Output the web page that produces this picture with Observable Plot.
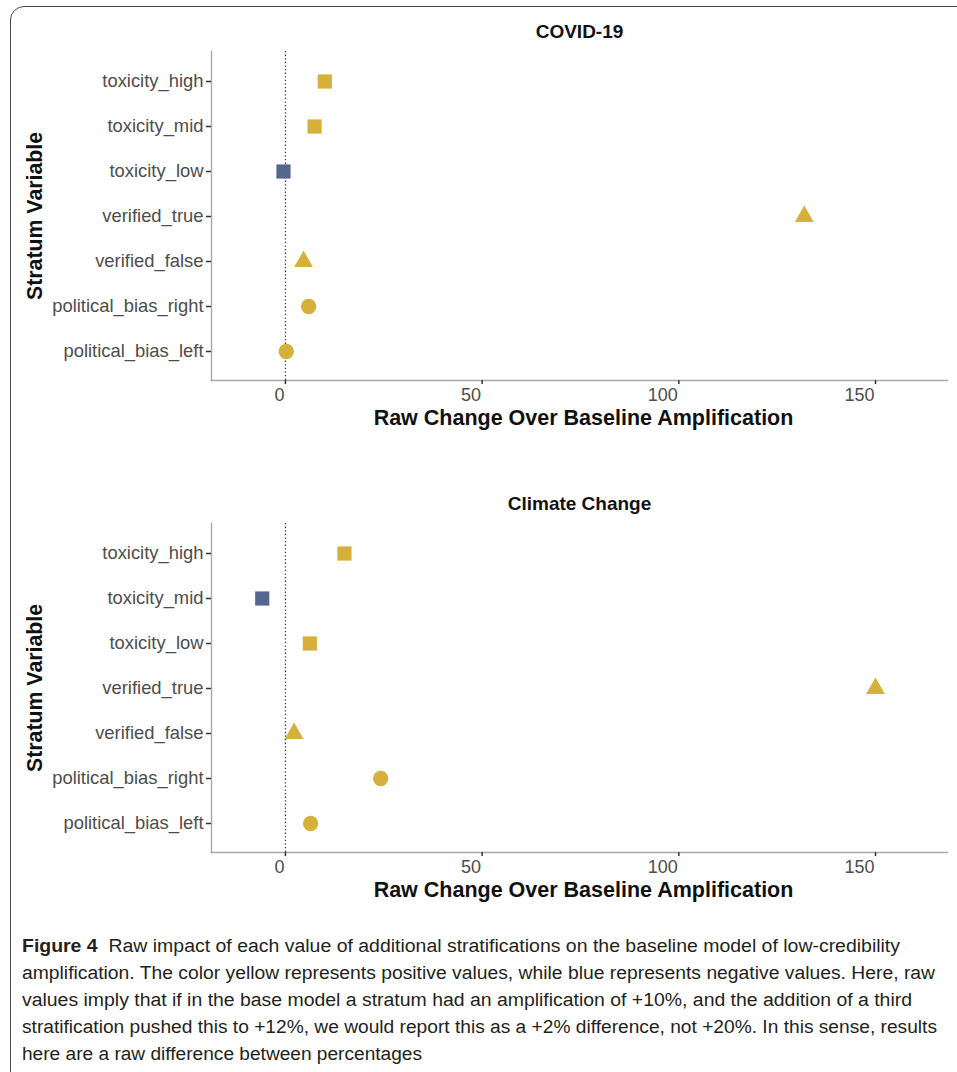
<!DOCTYPE html>
<html>
<head>
<meta charset="utf-8">
<script src="https://cdn.jsdelivr.net/npm/d3@7"></script>
<script src="https://cdn.jsdelivr.net/npm/@observablehq/plot@0.6"></script>
<style>
  html, body { margin: 0; padding: 0; background: #fff; }
  body { width: 957px; height: 1072px; overflow: hidden; position: relative; }
  #frame { position: absolute; left: 10px; top: 6px; width: 1000px; height: 1120px;
           border: 1.4px solid #4a4a4a; border-radius: 14px; box-sizing: border-box; }
  .panel { position: absolute; left: 0; }
  .cap { position: absolute; left: 22px; white-space: nowrap; font-family: "Liberation Sans", Arial, sans-serif;
         font-size: 18px; color: #231f20; transform-origin: 0 50%; line-height: 27px; }
</style>
</head>
<body>
<div id="frame"></div>
<div id="p1" class="panel" style="top:0px"></div>
<div id="p2" class="panel" style="top:472px"></div>
<div id="caption"></div>
<script>
const strata = ["toxicity_high","toxicity_mid","toxicity_low","verified_true","verified_false","political_bias_right","political_bias_left"];
const shapes = ["square","square","square","triangle","triangle","circle","circle"];
const covidValues = [10.0, 7.4, -0.5, 131.9, 4.6, 5.9, 0.2];
const climateValues = [15.0, -5.9, 6.2, 150.0, 2.2, 24.2, 6.4];
const xTicks = [0, 50, 100, 150];
const xDomain = [-18.8, 168.3];
const panelTitles = ["COVID-19", "Climate Change"];
const xTitle = "Raw Change Over Baseline Amplification";
const yTitle = "Stratum Variable";
const captionLines = [
  "Raw impact of each value of additional stratifications on the baseline model of low-credibility",
  "amplification. The color yellow represents positive values, while blue represents negative values. Here, raw",
  "values imply that if in the base model a stratum had an amplification of +10%, and the addition of a third",
  "stratification pushed this to +12%, we would report this as a +2% difference, not +20%. In this sense, results",
  "here are a raw difference between percentages"
];
const captionLabel = "Figure 4";

const YELLOW = "#d5b03a", BLUE = "#56678f";
const FONT = "'Liberation Sans', Arial, Helvetica, sans-serif";

function panel(title, values) {
  const data = strata.map((s, i) => ({stratum: s, value: values[i], shape: shapes[i], sign: values[i] >= 0 ? "pos" : "neg"}));
  const sizes = {square: 8, triangle: 7, circle: 7.7};
  const dots = ["square", "triangle", "circle"].map(sh =>
    Plot.dot(data.filter(d => d.shape === sh), {x: "value", y: "stratum", symbol: sh, r: sizes[sh], fill: "sign"}));
  return Plot.plot({
    width: 957, height: 440,
    marginLeft: 211, marginRight: 10, marginTop: 51, marginBottom: 60,
    style: {fontFamily: FONT, background: "transparent", overflow: "visible"},
    x: {domain: xDomain, label: null},
    y: {type: "point", domain: strata, padding: 0.6, label: null},
    color: {domain: ["pos", "neg"], range: [YELLOW, BLUE]},
    marks: [
      Plot.ruleX([0], {stroke: "#333", strokeDasharray: "1.3,2.3", strokeWidth: 1.3}),
      Plot.frame({anchor: "left", stroke: "#a8a8a8", strokeWidth: 1.4}),
      Plot.frame({anchor: "bottom", stroke: "#a8a8a8", strokeWidth: 1.4}),
      Plot.axisY({tickSize: 5, tickFormat: () => "", color: "#333", strokeWidth: 1.5}),
      Plot.axisY({tickSize: 0, tickPadding: 8, color: "#4d4d4d", fontSize: 18.4}),
      Plot.axisX({ticks: xTicks, tickSize: 4, tickFormat: () => "", color: "#333", strokeWidth: 1.5}),
      Plot.axisX({ticks: xTicks, tickSize: 0, tickPadding: 8, color: "#4d4d4d", fontSize: 18, textAnchor: "end", dx: -1}),
      ...dots,
      Plot.text([title], {text: d => d, frameAnchor: "top", lineAnchor: "middle", dy: -20, fontWeight: "bold", fontSize: 19, fill: "#111"}),
      Plot.text([xTitle], {text: d => d, frameAnchor: "bottom", lineAnchor: "middle", dy: 38, dx: 4, fontWeight: "bold", fontSize: 21.5, fill: "#111"}),
      Plot.text([yTitle], {text: d => d, frameAnchor: "left", textAnchor: "middle", lineAnchor: "middle", dx: -176, rotate: -90, fontWeight: "bold", fontSize: 21.3, fill: "#111"})
    ]
  });
}

document.getElementById("p1").appendChild(panel(panelTitles[0], covidValues));
document.getElementById("p2").appendChild(panel(panelTitles[1], climateValues));

// caption
const capCenters = [946, 973, 1000, 1027, 1054];
const capTargets = [878, 913, 890, 915, 400];
const cap = document.getElementById("caption");
captionLines.forEach((line, i) => {
  const div = document.createElement("div");
  div.className = "cap";
  div.style.top = (capCenters[i] - 13.5) + "px";
  if (i === 0) {
    const b = document.createElement("b");
    b.textContent = captionLabel;
    div.appendChild(b);
    div.appendChild(document.createTextNode("\u00a0\u00a0" + line));
  } else {
    div.textContent = line;
  }
  cap.appendChild(div);
  const w = div.getBoundingClientRect().width;
  div.style.transform = `scaleX(${capTargets[i] / w})`;
});
</script>
</body>
</html>
